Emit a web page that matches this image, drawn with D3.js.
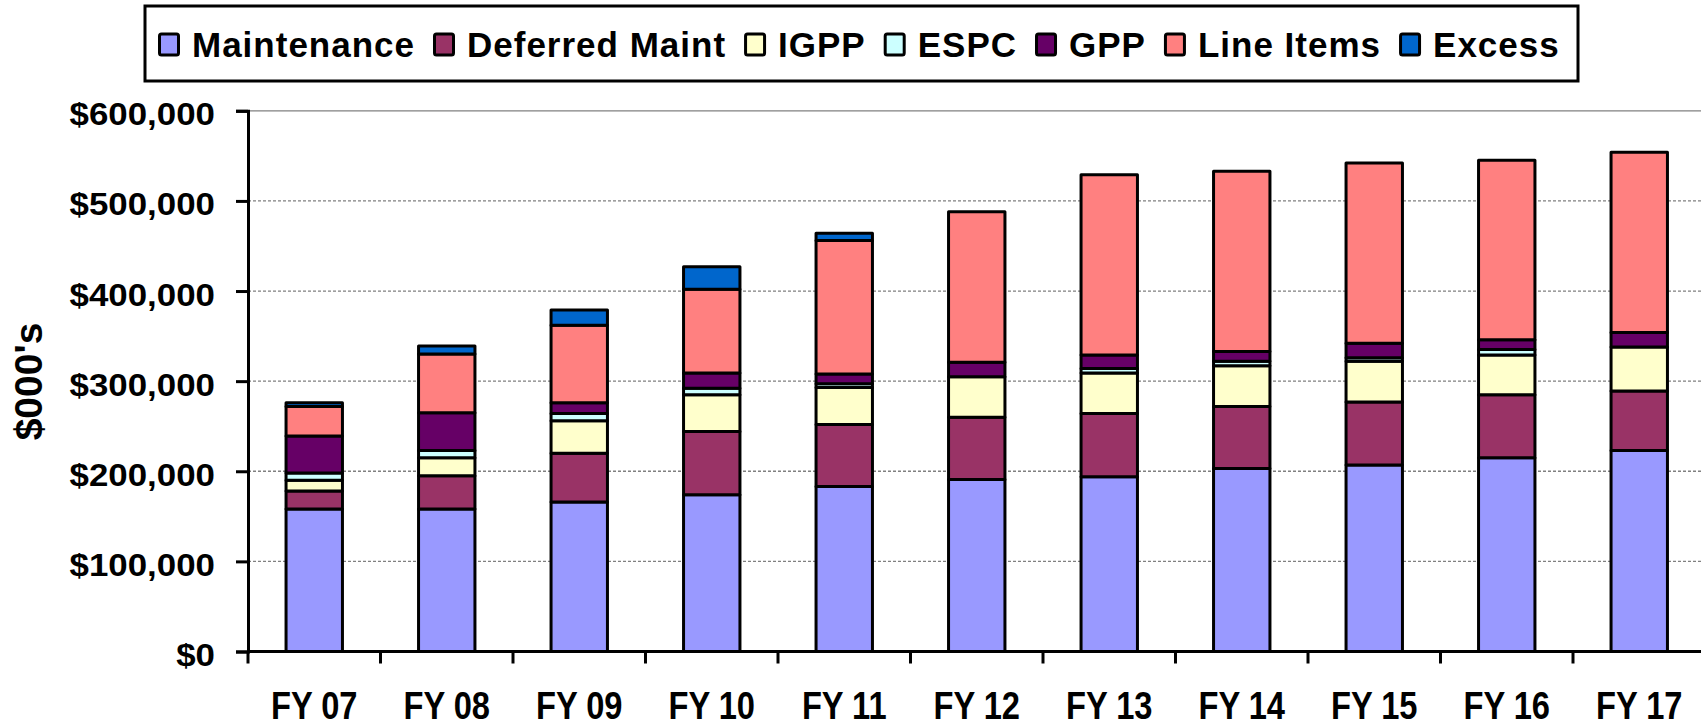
<!DOCTYPE html>
<html>
<head>
<meta charset="utf-8">
<script src="https://cdn.jsdelivr.net/npm/d3@7"></script>
<style>
  body { margin: 0; background: #fff; }
  svg { display: block; font-family: 'Liberation Sans', Arial, sans-serif; font-weight: bold; }
</style>
</head>
<body>
<svg id="chart" width="1701" height="728"></svg>
<script>
// values in $000's
const categories = ['FY 07', 'FY 08', 'FY 09', 'FY 10', 'FY 11', 'FY 12', 'FY 13', 'FY 14', 'FY 15', 'FY 16', 'FY 17'];
const maintenance = [158000, 158000, 166000, 174000, 183000, 191000, 194000, 203000, 207000, 215000, 223000];
const deferredMaint = [20000, 37000, 54000, 70000, 69000, 69000, 70000, 69000, 70000, 70000, 66000];
const igpp = [12000, 20000, 36000, 41000, 41000, 45000, 45000, 45000, 45000, 44000, 49000];
const espc = [8000, 8000, 8000, 7000, 4000, 0, 5000, 5000, 4000, 6000, 0];
const gpp = [41000, 42000, 12000, 17000, 11000, 16000, 15000, 11000, 16000, 11000, 16000];
const lineItems = [33000, 65000, 86000, 93000, 148000, 167000, 200000, 200000, 200000, 199000, 200000];
const excess = [4000, 9000, 17000, 25000, 8000, 0, 0, 0, 0, 0, 0];

const seriesNames = ['Maintenance', 'Deferred Maint', 'IGPP', 'ESPC', 'GPP', 'Line Items', 'Excess'];
const seriesValues = [maintenance, deferredMaint, igpp, espc, gpp, lineItems, excess];
const yTicks = [0, 100000, 200000, 300000, 400000, 500000, 600000];

const colors = ['#9999FF', '#993366', '#FFFFCC', '#CCFFFF', '#660066', '#FF8080', '#0066CC'];

const svg = d3.select('#chart');
const width = +svg.attr('width');
const plotLeft = 248, plotRight = 1705.5, plotTop = 110.8, plotBottom = 651.5;
const barW = 56.4;

const x = d3.scaleBand().domain(categories).range([plotLeft, plotRight]);
const y = d3.scaleLinear().domain([0, 600000]).range([plotBottom, plotTop]);

// gridlines
svg.append('g')
  .selectAll('line')
  .data(yTicks.slice(1))
  .join('line')
  .attr('x1', plotLeft).attr('x2', width)
  .attr('y1', d => y(d)).attr('y2', d => y(d))
  .attr('stroke', '#808080')
  .attr('stroke-width', 1.3)
  .attr('stroke-dasharray', d => d === 600000 ? null : '3,2');

// stacked bars
const rows = categories.map((c, i) => {
  const r = { cat: c };
  seriesNames.forEach((s, k) => { r[s] = seriesValues[k][i]; });
  return r;
});
const stacked = d3.stack().keys(seriesNames)(rows);

svg.append('g')
  .selectAll('g')
  .data(stacked)
  .join('g')
  .attr('fill', (d, i) => colors[i])
  .selectAll('rect')
  .data(d => d)
  .join('rect')
  .attr('x', d => x(d.data.cat) + (x.bandwidth() - barW) / 2)
  .attr('width', barW)
  .attr('y', d => y(d[1]))
  .attr('height', d => y(d[0]) - y(d[1]))
  .attr('stroke', '#000')
  .attr('stroke-width', 3)
  .attr('stroke-linejoin', 'round');

// y axis
const yAxis = svg.append('g')
  .attr('transform', `translate(${plotLeft},0)`)
  .call(d3.axisLeft(y).tickValues(yTicks).tickSizeOuter(0).tickSize(12)
    .tickFormat(d => '$' + d3.format(',')(d)));
yAxis.select('.domain').attr('stroke', '#000').attr('stroke-width', 3);
yAxis.selectAll('.tick line').attr('stroke', '#000').attr('stroke-width', 3);
yAxis.selectAll('.tick text')
  .attr('x', 0).attr('dy', null)
  .attr('transform', 'translate(-33,14) scale(1.09,1)')
  .attr('font-size', 32)
  .attr('font-family', "'Liberation Sans', Arial, sans-serif")
  .attr('fill', '#000');

// x axis line and category boundary ticks
svg.append('line')
  .attr('x1', plotLeft).attr('x2', width)
  .attr('y1', plotBottom).attr('y2', plotBottom)
  .attr('stroke', '#000').attr('stroke-width', 3);

const bounds = categories.map(c => x(c)).concat([plotRight]);
svg.append('g')
  .selectAll('line')
  .data(bounds)
  .join('line')
  .attr('x1', d => d).attr('x2', d => d)
  .attr('y1', plotBottom).attr('y2', plotBottom + 12)
  .attr('stroke', '#000').attr('stroke-width', 3);

svg.append('g')
  .selectAll('text')
  .data(categories)
  .join('text')
  .attr('transform', d => `translate(${x(d) + x.bandwidth() / 2},719) scale(0.86,1)`)
  .attr('text-anchor', 'middle')
  .attr('font-size', 38)
  .text(d => d);

// y axis title
svg.append('text')
  .attr('transform', 'translate(42,381.5) rotate(-90)')
  .attr('text-anchor', 'middle')
  .attr('font-size', 39)
  .text("$000's");

// legend
svg.append('rect')
  .attr('x', 145).attr('y', 6)
  .attr('width', 1433).attr('height', 75)
  .attr('fill', '#fff').attr('stroke', '#000').attr('stroke-width', 3);

let lx = 158;
seriesNames.forEach((name, i) => {
  svg.append('rect')
    .attr('x', lx + 1.5).attr('y', 34)
    .attr('width', 19).attr('height', 21)
    .attr('rx', 2)
    .attr('fill', colors[i])
    .attr('stroke', '#000').attr('stroke-width', 3);
  const t = svg.append('text')
    .attr('x', lx + 22 + 12).attr('y', 56.5)
    .attr('font-size', 35)
    .attr('letter-spacing', 1)
    .text(name);
  lx = lx + 22 + 12 + t.node().getComputedTextLength() + 18;
});
</script>
</body>
</html>
